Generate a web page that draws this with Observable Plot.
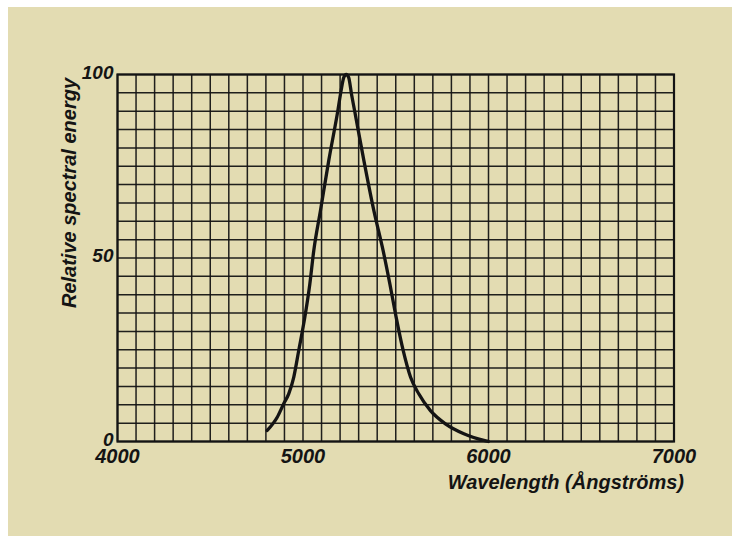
<!DOCTYPE html>
<html>
<head>
<meta charset="utf-8">
<script src="https://cdn.jsdelivr.net/npm/d3@7"></script>
<script src="https://cdn.jsdelivr.net/npm/@observablehq/plot@0.6"></script>
<style>
  html, body { margin: 0; padding: 0; background: #ffffff; }
  #page { position: relative; width: 738px; height: 536px; overflow: hidden; }
  #paper { position: absolute; left: 8px; top: 7px; width: 724px; height: 529px; background: #e3dcb2; }
  #chart { position: absolute; left: 0; top: 0; }
</style>
</head>
<body>
<div id="page"><div id="paper"></div><div id="chart"></div></div>
<script>
// Wavelength (Ångströms) and relative spectral energy
const wavelength = [4807, 4861, 4896, 4923, 4950, 4977, 5010, 5037, 5058, 5094, 5139, 5188, 5205, 5220, 5233,
                    5246, 5262, 5278, 5328, 5382, 5432, 5468, 5502, 5540, 5580, 5624, 5687, 5768, 5867, 5975, 6000];
const energy     = [3.0, 6.6, 10.3, 13.0, 17.5, 24.8, 33.9, 43.0, 52.0, 62.9, 76.6, 90.2, 95.5, 99.2, 100,
                    99.2, 94.5, 90.2, 76.6, 62.9, 52.0, 43.0, 33.9, 24.8, 17.5, 13.0, 8.4, 4.8, 2.1, 0.3, 0];
const xTicks = [4000, 5000, 6000, 7000];
const yTicks = [0, 50, 100];
const xTitle = "Wavelength (Ångströms)";
const yTitle = "Relative spectral energy";

const data = wavelength.map((w, i) => ({w, e: energy[i]}));
const ink = "#141414";

const chart = Plot.plot({
  width: 738,
  height: 536,
  marginLeft: 117,
  marginRight: 64.5,
  marginTop: 74,
  marginBottom: 95,
  style: {
    background: "transparent",
    fontFamily: "'Liberation Sans', Arial, sans-serif",
    fontSize: "19px",
    fontWeight: "bold",
    fontStyle: "italic",
    color: ink
  },
  x: {domain: [4000, 7000]},
  y: {domain: [0, 100]},
  marks: [
    Plot.gridX({interval: 100, stroke: ink, strokeOpacity: 0.95, strokeWidth: 1.5}),
    Plot.gridY({interval: 5, stroke: ink, strokeOpacity: 0.95, strokeWidth: 1.5}),
    Plot.frame({stroke: ink, strokeWidth: 2.2}),
    Plot.axisX({ticks: xTicks, tickSize: 0, tickPadding: 7, fontSize: 20, label: null, tickFormat: d => String(d), fill: ink}),
    Plot.axisY({ticks: yTicks, tickSize: 0, tickPadding: 4, dy: -2, label: null, fill: ink}),
    Plot.line(data, {x: "w", y: "e", curve: "monotone-x", stroke: ink, strokeWidth: 3.3}),
    Plot.text([yTitle], {frameAnchor: "left", textAnchor: "middle", rotate: -90, dx: -48, dy: -65, fontSize: 20, fill: ink}),
    Plot.text([xTitle], {frameAnchor: "bottom-right", textAnchor: "end", lineAnchor: "bottom", dx: 10, dy: 47, fontSize: 20, fill: ink})
  ]
});
document.getElementById("chart").appendChild(chart);
</script>
</body>
</html>
